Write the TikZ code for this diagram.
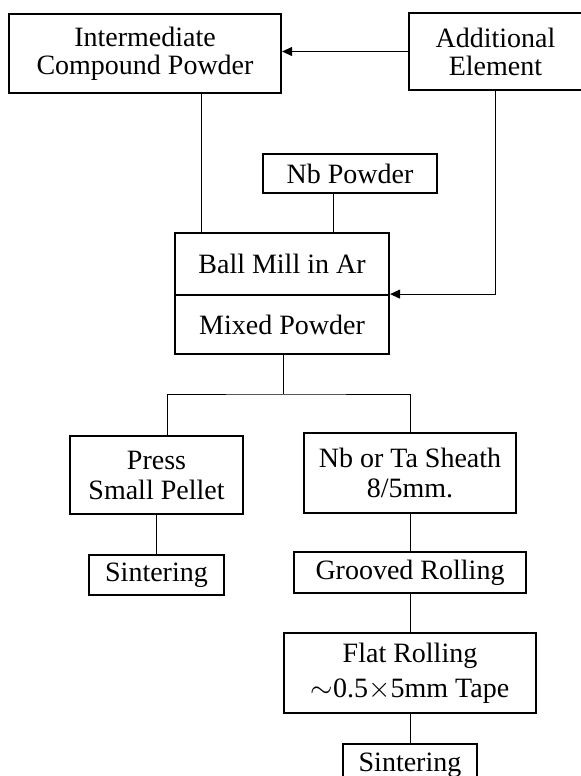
\documentclass[tikz,border=0pt]{standalone}
\usepackage{fontspec}
\setmainfont{Liberation Serif}
\usetikzlibrary{arrows.meta}

\begin{document}
\begin{tikzpicture}[x=0.5pt, y=-0.5pt,
			step box/.style={draw, line width=1.1pt, align=center, inner sep=0pt, font=\fontsize{14}{14}\selectfont},
			link line/.style={line width=0.5pt},
			feed arrow/.style={link line, -{Triangle[length=5pt,width=4.5pt]}}
			]
			\useasboundingbox (0,0) rectangle (580,776);
			
			\node[step box, minimum width=136pt, minimum height=39.5pt] (inter) at (145,53.5) {Intermediate\\Compound Powder};
			\node[step box, minimum width=86.5pt, minimum height=38.5pt] (addel) at (495.5,51.5) {Additional\\Element};
			\node[step box, minimum width=87pt, minimum height=19.5pt] (nbpow) at (350,173.5) {Nb Powder};
			\node[step box, minimum width=107pt, minimum height=31pt] (ball) at (282,264) {Ball Mill in Ar};
			\node[step box, minimum width=107pt, minimum height=29.5pt] (mixed) at (282,324.5) {Mixed Powder};
			\node[step box, minimum width=86.5pt, minimum height=39pt, font=\fontsize{14}{15}\selectfont] (press) at (156.5,475) {Press\\Small Pellet};
			\node[step box, minimum width=106pt, minimum height=40pt, font=\fontsize{14}{15}\selectfont] (sheath) at (410,473) {Nb or Ta Sheath\\8/5mm.};
			\node[step box, minimum width=67.5pt, minimum height=20pt] (sint1) at (156.5,575) {Sintering};
			\node[step box, minimum width=116pt, minimum height=20.5pt] (groove) at (410,572.5) {Grooved Rolling};
			\node[step box, minimum width=126pt, minimum height=40pt, font=\fontsize{14}{17.5}\selectfont] (flat) at (410,673) {Flat Rolling\\$\sim$0.5$\times$5mm Tape};
			\node[step box, minimum width=67pt, minimum height=21pt] (sint2) at (410,765) {Sintering};
			
			\coordinate (fork) at (283,394);
			
			\draw[feed arrow] (addel.west) -- (addel.west -| inter.east);
			\draw[link line] ([xshift=14pt]ball.north west |- inter.south) -- ([xshift=14pt]ball.north west);
			\draw[link line] ([xshift=-8.5pt]nbpow.south) -- ([xshift=-8.5pt]nbpow.south |- ball.north);
			\draw[feed arrow] (addel.south) |- ([yshift=1pt]ball.south east);
			\draw[link line] (fork |- mixed.south) -- (fork);
			\draw[link line] ([xshift=5.25pt]press.north) |- (fork) -| (sheath.north);
			\draw[link line] (press.south) -- (sint1.north);
			\draw[link line] (sheath.south) -- (groove.north);
			\draw[link line] (groove.south) -- (flat.north);
			\draw[link line] (flat.south) -- (sint2.north);
		\end{tikzpicture}
\end{document}
